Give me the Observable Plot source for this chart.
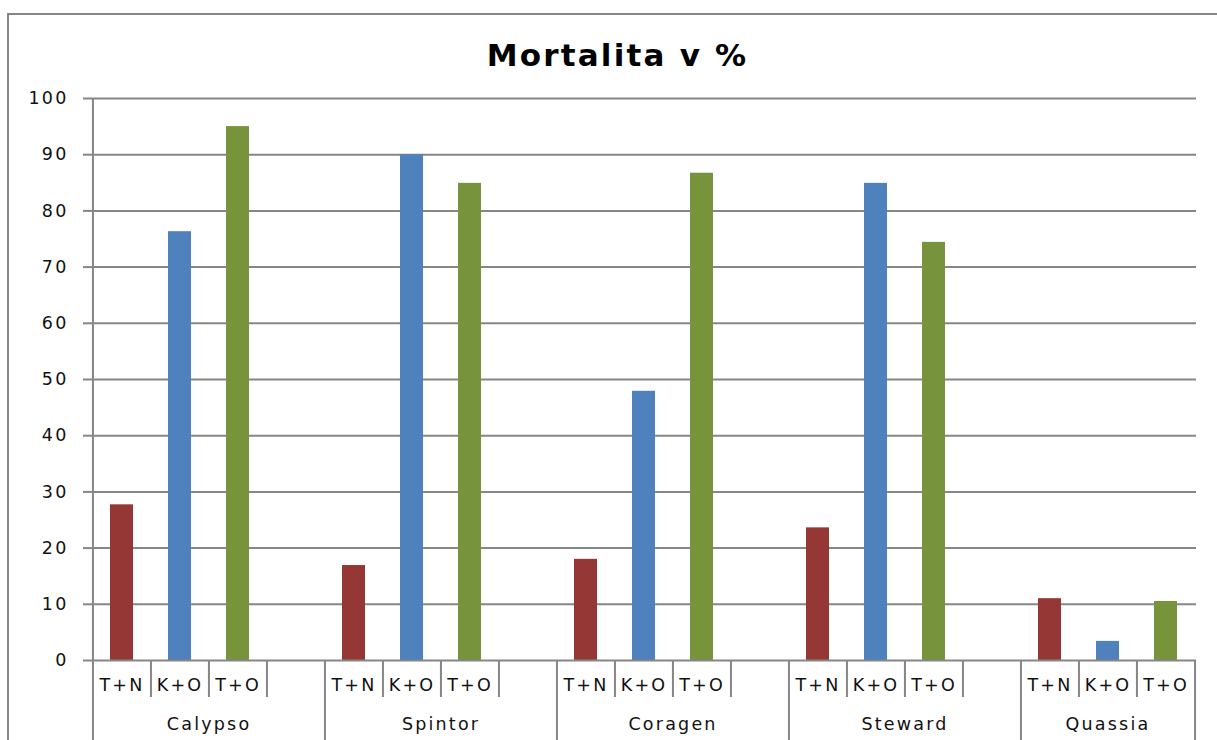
<!DOCTYPE html>
<html>
<head>
<meta charset="utf-8">
<script src="https://cdn.jsdelivr.net/npm/d3@7"></script>
<script src="https://cdn.jsdelivr.net/npm/@observablehq/plot@0.6"></script>
<style>
  html, body { margin: 0; padding: 0; background: #fff; }
  #wrap { position: relative; width: 1217px; height: 740px; overflow: hidden; }
  #border {
    position: absolute; left: 7px; top: 13px; width: 1300px; height: 800px;
    border-left: 2px solid #868686; border-top: 2px solid #868686;
    pointer-events: none;
  }
  #chart { position: absolute; left: 0; top: 0; }
  #chart svg text { letter-spacing: 2.2px; }
  #chart svg text.title { letter-spacing: 3px; }
</style>
</head>
<body>
<div id="wrap">
  <div id="border"></div>
  <div id="chart"></div>
</div>
<script>
// Insecticide groups along the category axis
const groups = ["Calypso", "Spintor", "Coragen", "Steward", "Quassia"];
// Treatment combinations within each group
const treatments = ["T+N", "K+O", "T+O"];
// Mortality (%) per group, one array per treatment
const tnValues = [27.7, 16.9, 18.0, 23.6, 11.0];
const koValues = [76.3, 90.0, 47.9, 84.9, 3.4];
const toValues = [95.0, 84.9, 86.7, 74.4, 10.5];
// Y axis ticks
const yTicks = [0, 10, 20, 30, 40, 50, 60, 70, 80, 90, 100];
const seriesColors = ["#953735", "#4f81bd", "#77933c"];
const titleText = "Mortalita v %";

const gridColor = "#868686";
const font = "DejaVu Sans, Verdana, sans-serif";

// Slot keys: three treatments per group, then an empty spacer slot (not after the last group)
const key = (g, t) => `${g}|${t}`;
const xDomain = [];
groups.forEach((g, i) => {
  treatments.forEach(t => xDomain.push(key(g, t)));
  if (i < groups.length - 1) xDomain.push(key(g, ""));
});

const seriesValues = [tnValues, koValues, toValues];
const bars = [];
groups.forEach((g, gi) => {
  treatments.forEach((t, ti) => {
    bars.push({key: key(g, t), group: g, treatment: t, value: seriesValues[ti][gi]});
  });
});

const width = 1217, height = 740;
const marginLeft = 92, marginRight = 21, marginTop = 98, marginBottom = 80;
const step = (width - marginLeft - marginRight) / xDomain.length;

// Slot boundaries: short ticks inside a group, long ticks at group edges
const groupStarts = groups.map(g => key(g, treatments[0]));
const innerStarts = xDomain.filter(k => !groupStarts.includes(k));
const lastKey = xDomain[xDomain.length - 1];

const fullGroups = groups.slice(0, -1);
const lastGroup = groups.slice(-1);

const chart = Plot.plot({
  width, height, marginLeft, marginRight, marginTop, marginBottom,
  style: {fontFamily: font, background: "transparent", color: "#111"},
  x: {domain: xDomain, type: "band", paddingInner: 0.6, paddingOuter: 0.3, axis: null},
  y: {domain: [0, 100], axis: null},
  color: {domain: treatments, range: seriesColors},
  marks: [
    Plot.gridY(yTicks.filter(d => d > 0), {stroke: gridColor, strokeOpacity: 1, strokeWidth: 2}),
    Plot.barY(bars, {x: "key", y: "value", fill: "treatment"}),
    Plot.ruleY([0], {stroke: gridColor, strokeWidth: 2}),
    // value axis line
    Plot.ruleX([xDomain[0]], {x: d => d, y1: 0, y2: 100, dx: -step / 2, stroke: gridColor, strokeWidth: 2}),
    Plot.axisY({
      ticks: yTicks, tickSize: 9, tickPadding: 15, fontSize: 17.5,
      stroke: gridColor, strokeWidth: 2, fill: "#111", label: null
    }),
    // short separators between treatments
    Plot.axisX({
      ticks: innerStarts, tickSize: 37, dx: -step / 2, tickFormat: () => "",
      stroke: gridColor, strokeWidth: 2, label: null
    }),
    // long separators at group edges
    Plot.axisX({
      ticks: groupStarts, tickSize: 80, dx: -step / 2, tickFormat: () => "",
      stroke: gridColor, strokeWidth: 2, label: null
    }),
    Plot.axisX({
      ticks: [lastKey], tickSize: 80, dx: step / 2, tickFormat: () => "",
      stroke: gridColor, strokeWidth: 2, label: null
    }),
    // treatment labels
    Plot.axisX({
      ticks: bars.map(d => d.key), tickSize: 0, tickPadding: 18, fontSize: 17.5,
      tickFormat: k => k.split("|")[1], fill: "#111", label: null
    }),
    // group labels
    Plot.text(fullGroups, {
      x: g => key(g, "K+O"), dx: step / 2, frameAnchor: "bottom", dy: 69,
      text: d => d, fontSize: 17.5, fill: "#111"
    }),
    Plot.text(lastGroup, {
      x: g => key(g, "K+O"), frameAnchor: "bottom", dy: 69,
      text: d => d, fontSize: 17.5, fill: "#111"
    }),
    // chart title
    Plot.text([titleText], {
      frameAnchor: "top", dx: -27, dy: -55, text: d => d,
      fontSize: 31, fontWeight: "bold", fill: "#000", className: "title"
    })
  ]
});

document.getElementById("chart").appendChild(chart);
</script>
</body>
</html>
